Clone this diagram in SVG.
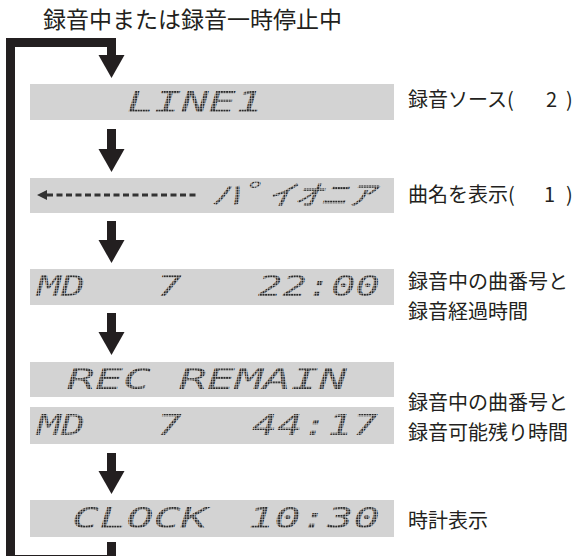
<svg xmlns="http://www.w3.org/2000/svg" width="585" height="556" viewBox="0 0 585 556">
<style>
.lbl{font-family:"Noto Sans CJK JP","Noto Sans",sans-serif;font-size:20px;fill:#231f20}
.ttl{font-family:"Noto Sans CJK JP","Noto Sans",sans-serif;font-size:23px;fill:#231f20}
.box{fill:#d3d3d3}
.lcd{font-family:"DejaVu Sans Mono","Noto Sans CJK JP",monospace;font-size:28px;font-style:italic;fill:url(#dots)}
.con{fill:none;stroke:#231f20;stroke-width:9;stroke-linejoin:miter;marker-end:url(#ah)}
</style>
<defs>
<pattern id="dots" width="2.6" height="2.6" patternUnits="userSpaceOnUse">
<rect width="2" height="2" fill="#2a2a2a"/>
</pattern>
<marker id="ah" markerUnits="userSpaceOnUse" markerWidth="24" markerHeight="27" refX="0" refY="13" orient="auto" overflow="visible">
<path d="M0,0 L23,13 L0,26 Z" fill="#231f20"/>
</marker>
</defs>
<text class="ttl" x="43" y="28">録音中または録音一時停止中</text>
<g id="connectors">
<path class="con" d="M111.5,542 V559.5 H10.5 V42.5 H111.5 V55"/>
<path class="con" d="M111.5,129 V149"/>
<path class="con" d="M111.5,221 V240"/>
<path class="con" d="M111.5,313 V332"/>
<path class="con" d="M111.5,453 V471"/>
</g>
<g id="lcd-line1">
<rect class="box" x="30" y="84" width="364" height="36"/>
<text class="lcd" x="127" y="112" textLength="136" lengthAdjust="spacingAndGlyphs">LINE1</text>
</g>
<g id="lcd-title">
<rect class="box" x="30" y="178" width="364" height="35"/>
<path d="M37,195 L47,190 L47,200 Z" fill="#333"/>
<line x1="47" y1="195" x2="199" y2="195" stroke="#333" stroke-width="3" stroke-dasharray="6 3.5"/>
<text class="lcd" x="212" y="205" textLength="161" lengthAdjust="spacingAndGlyphs">ﾊﾟｲｵﾆｱ</text>
</g>
<g id="lcd-elapsed">
<rect class="box" x="30" y="269" width="364" height="36"/>
<text class="lcd" x="37" y="296" textLength="48" lengthAdjust="spacingAndGlyphs">MD</text>
<text class="lcd" x="157" y="296" textLength="25" lengthAdjust="spacingAndGlyphs">7</text>
<text class="lcd" x="258" y="296" textLength="122" lengthAdjust="spacingAndGlyphs">22:00</text>
</g>
<g id="lcd-remain">
<rect class="box" x="30" y="362" width="364" height="35"/>
<text class="lcd" x="67" y="389" textLength="280" lengthAdjust="spacingAndGlyphs">REC REMAIN</text>
<rect class="box" x="30" y="407" width="364" height="37"/>
<text class="lcd" x="37" y="435" textLength="48" lengthAdjust="spacingAndGlyphs">MD</text>
<text class="lcd" x="157" y="435" textLength="25" lengthAdjust="spacingAndGlyphs">7</text>
<text class="lcd" x="252" y="435" textLength="126" lengthAdjust="spacingAndGlyphs">44:17</text>
</g>
<g id="lcd-clock">
<rect class="box" x="30" y="500" width="364" height="37"/>
<text class="lcd" x="72" y="528" textLength="136" lengthAdjust="spacingAndGlyphs">CLOCK</text>
<text class="lcd" x="248" y="528" textLength="132" lengthAdjust="spacingAndGlyphs">10:30</text>
</g>
<g id="labels">
<text class="lbl" x="408" y="107">録音ソース(<tspan x="546">2</tspan><tspan x="566">)</tspan></text>
<text class="lbl" x="408" y="202">曲名を表示(<tspan x="544">1</tspan><tspan x="566">)</tspan></text>
<text class="lbl" x="408" y="289">録音中の曲番号と</text>
<text class="lbl" x="408" y="319">録音経過時間</text>
<text class="lbl" x="408" y="410">録音中の曲番号と</text>
<text class="lbl" x="408" y="440">録音可能残り時間</text>
<text class="lbl" x="408" y="528">時計表示</text>
</g>
</svg>
